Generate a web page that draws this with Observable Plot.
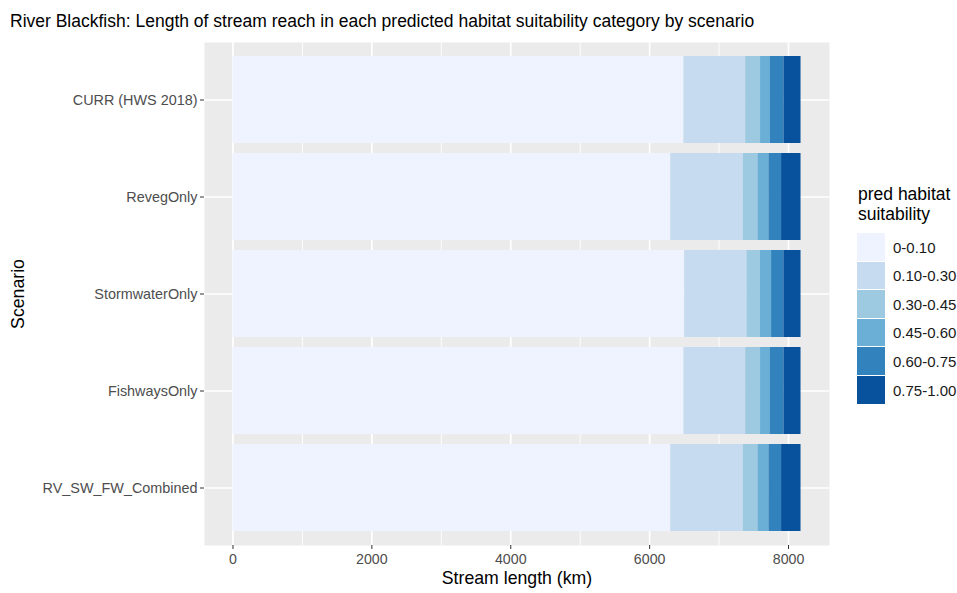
<!DOCTYPE html>
<html>
<head>
<meta charset="utf-8">
<script src="https://cdn.jsdelivr.net/npm/d3@7"></script>
<script src="https://cdn.jsdelivr.net/npm/@observablehq/plot@0.6"></script>
<style>
  html, body { margin: 0; padding: 0; background: #fff; overflow: hidden; width: 957px; height: 593px; }
  body { position: relative; font-family: "Liberation Sans", Arial, sans-serif; }
  #title { position: absolute; left: 10px; top: 13px; font-size: 17.5px; line-height: 1; color: #000; white-space: nowrap; }
  #chart { position: absolute; left: 0; top: 0; }
  #legend { position: absolute; left: 857px; top: 0; width: 100px; height: 593px; overflow: hidden; white-space: nowrap; }
  .lt { position: absolute; left: 1px; font-size: 17.5px; line-height: 1; color: #000; }
  .key { position: absolute; left: 0; width: 28px; height: 27.5px; }
  .kl { position: absolute; left: 36px; font-size: 15px; line-height: 1; color: #1a1a1a; }
</style>
</head>
<body>
<div id="title">River Blackfish: Length of stream reach in each predicted habitat suitability category by scenario</div>
<div id="chart"></div>
<div id="legend"></div>
<script>
// ---- data (km) ----
const scenarios = ["CURR (HWS 2018)", "RevegOnly", "StormwaterOnly", "FishwaysOnly", "RV_SW_FW_Combined"];
const categories = ["0-0.10", "0.10-0.30", "0.30-0.45", "0.45-0.60", "0.60-0.75", "0.75-1.00"];
const colors = ["#EFF3FF", "#C6DBEF", "#9ECAE1", "#6BAED6", "#3182BD", "#08519C"];

// length of stream in each suitability category, per scenario
const currLengths      = [6495, 888, 214, 143, 195, 245];
const revegLengths     = [6304, 1046, 210, 158, 182, 280];
const stormLengths     = [6505, 897, 193, 161, 177, 247];
const fishwaysLengths  = [6495, 888, 214, 143, 195, 245];
const combinedLengths  = [6304, 1046, 210, 158, 182, 280];

// faint reach boundaries visible inside the bars (cumulative km)
const currBreaks     = [487, 1085, 5123];
const revegBreaks    = [96, 487, 870, 1980, 2184, 3369, 4072, 8072];
const stormBreaks    = [487, 889, 2824, 3111, 5090, 6796];
const fishwaysBreaks = [487, 1085, 5123];
const combinedBreaks = [487, 1176, 2853, 3154, 3900, 4086, 7566];

const xTicks = [0, 2000, 4000, 6000, 8000];
const xMinor = [1000, 3000, 5000, 7000];

// ---- build tables ----
const lengthsByScenario = [currLengths, revegLengths, stormLengths, fishwaysLengths, combinedLengths];
const breaksByScenario = [currBreaks, revegBreaks, stormBreaks, fishwaysBreaks, combinedBreaks];

const segs = [];
scenarios.forEach((s, i) => {
  let acc = 0;
  lengthsByScenario[i].forEach((v, j) => {
    segs.push({scenario: s, cat: categories[j], x1: acc, x2: acc + v});
    acc += v;
  });
});
const breaks = [];
scenarios.forEach((s, i) => breaksByScenario[i].forEach(b => breaks.push({scenario: s, x: b})));

const plot = Plot.plot({
  width: 840,
  height: 593,
  marginTop: 42,
  marginBottom: 48,
  marginLeft: 204,
  marginRight: 11,
  style: {fontFamily: '"Liberation Sans", Arial, sans-serif', background: "transparent"},
  x: {domain: [-410, 8590], label: null},
  y: {domain: scenarios, paddingInner: 0.1, paddingOuter: 0.14, label: null},
  color: {domain: categories, range: colors},
  marks: [
    Plot.frame({fill: "#EBEBEB", stroke: null}),
    Plot.gridX(xMinor, {stroke: "#fff", strokeOpacity: 1, strokeWidth: 0.9}),
    Plot.gridX(xTicks, {stroke: "#fff", strokeOpacity: 1, strokeWidth: 1.7}),
    Plot.gridY(scenarios, {stroke: "#fff", strokeOpacity: 1, strokeWidth: 1.7}),
    Plot.barX(segs, {x1: "x1", x2: "x2", y: "scenario", fill: "cat"}),
    Plot.ruleX(breaks, {x: "x", y: "scenario", stroke: "#fff", strokeOpacity: 0.8, strokeWidth: 1}),
    Plot.axisX(xTicks, {tickSize: 4, tickPadding: 4, fontSize: 14.2, stroke: "#333", fill: "#4D4D4D", tickFormat: d => String(d), label: null}),
    Plot.axisY({tickSize: 4, tickPadding: 3, fontSize: 14.4, stroke: "#333", fill: "#4D4D4D", label: null}),
    Plot.text(["Stream length (km)"], {frameAnchor: "bottom", dy: 38, fontSize: 17.7, fill: "#000"}),
    Plot.text(["Scenario"], {frameAnchor: "left", textAnchor: "middle", dx: -186, rotate: -90, fontSize: 17.7, fill: "#000"})
  ]
});
document.getElementById("chart").appendChild(plot);

// ---- legend ----
const lg = document.getElementById("legend");
const t1 = document.createElement("div"); t1.className = "lt"; t1.style.top = "186px"; t1.textContent = "pred habitat"; lg.appendChild(t1);
const t2 = document.createElement("div"); t2.className = "lt"; t2.style.top = "206px"; t2.textContent = "suitability"; lg.appendChild(t2);
const color = plot.scale("color");
categories.forEach((c, i) => {
  const top = 233 + i * 28.6;
  const k = document.createElement("div"); k.className = "key";
  k.style.top = top + "px"; k.style.background = color.apply(c); lg.appendChild(k);
  const l = document.createElement("div"); l.className = "kl";
  l.style.top = (top + 14 - 7.5) + "px"; l.textContent = c; lg.appendChild(l);
});
</script>
</body>
</html>
